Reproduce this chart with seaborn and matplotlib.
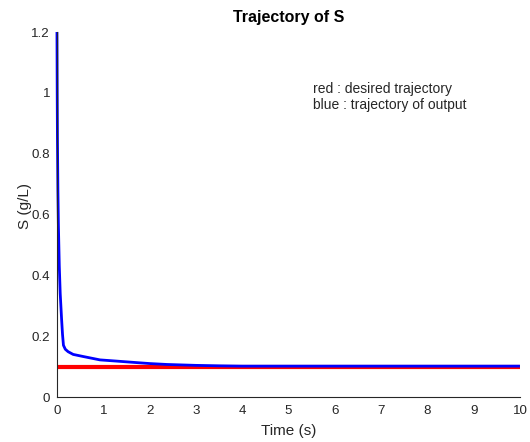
import matplotlib
matplotlib.use("Agg")
import matplotlib.pyplot as plt
import seaborn as sns
import pandas as pd

# Data
t_desired = [0.0, 10.0]
s_desired = [0.1, 0.1]

t_output = [0.0, 0.005, 0.01, 0.02, 0.03, 0.05, 0.07, 0.1, 0.12, 0.14, 0.18, 0.24,
            0.35, 0.57, 0.93, 1.29, 1.64, 2.0, 2.37, 3.0, 3.5, 4.0,
            5.0, 6.0, 7.0, 8.0, 9.0, 10.0]
s_output = [1.2, 1.0, 0.85, 0.68, 0.57, 0.43, 0.34, 0.255, 0.205, 0.17, 0.157, 0.149,
            0.14, 0.133, 0.122, 0.118, 0.114, 0.11, 0.107, 0.104, 0.1025, 0.1015,
            0.1015, 0.1015, 0.1015, 0.1015, 0.1015, 0.1015]

x_ticks = [0, 1, 2, 3, 4, 5, 6, 7, 8, 9, 10]
y_ticks = [0, 0.2, 0.4, 0.6, 0.8, 1.0, 1.2]
y_ticklabels = ["0", "0.2", "0.4", "0.6", "0.8", "1", "1.2"]

sns.set_style("white")
plt.rcParams['font.family'] = ['Liberation Sans', 'DejaVu Sans']

fig = plt.figure(figsize=(5.3, 4.42), dpi=100)
ax = fig.add_axes([0.1075, 0.1018, 0.8735, 0.8258])

df_d = pd.DataFrame({"t": t_desired, "s": s_desired})
df_o = pd.DataFrame({"t": t_output, "s": s_output})
sns.lineplot(data=df_d, x="t", y="s", ax=ax, color="#ff0000", linewidth=3.0,
             clip_on=False, solid_capstyle="butt")
sns.lineplot(data=df_o, x="t", y="s", ax=ax, color="#0000ff", linewidth=2.0,
             clip_on=False, solid_capstyle="butt")

ax.set_xlim(0, 10)
ax.set_ylim(0, 1.2)
ax.set_xticks(x_ticks)
ax.set_yticks(y_ticks)
ax.set_yticklabels(y_ticklabels)
ax.tick_params(direction="in", length=4, width=0.8, colors="#262626", labelsize=9.6)
ax.tick_params(axis="x", pad=5.5)
ax.tick_params(axis="y", pad=5.0)
for side in ["top", "right"]:
    ax.spines[side].set_visible(False)
for side in ["left", "bottom"]:
    ax.spines[side].set_color("#262626")
    ax.spines[side].set_linewidth(0.8)

ax.set_xlabel("Time (s)", fontsize=11, color="#262626")
ax.set_ylabel("S (g/L)", fontsize=11, color="#262626")
ax.xaxis.set_label_coords(0.5, -0.074)
ax.yaxis.set_label_coords(-0.054, 0.523)
ax.set_title("Trajectory of S", fontsize=11.5, fontweight="bold", color="black", pad=7.2)

ax.text(5.53, 0.999, "red : desired trajectory", fontsize=10, va="baseline", ha="left")
ax.text(5.53, 0.947, "blue : trajectory of output", fontsize=10, va="baseline", ha="left")

fig.savefig("out.png", dpi=100)
